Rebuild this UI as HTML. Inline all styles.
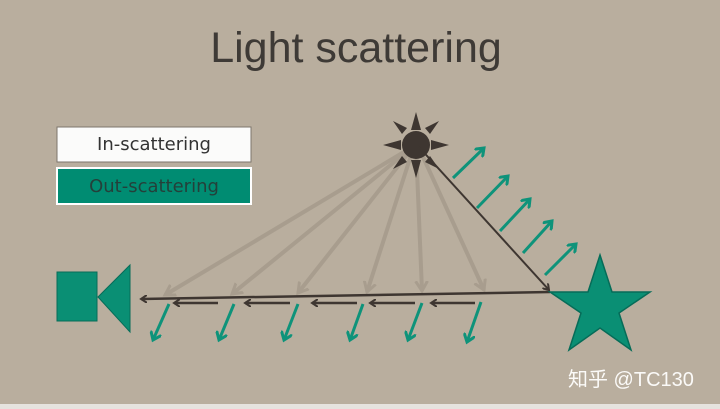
<!DOCTYPE html>
<html><head><meta charset="utf-8"><style>
body{margin:0;width:720px;height:409px;overflow:hidden;background:#b9ae9e;}
svg{display:block}
</style></head><body>
<svg width="720" height="409" xmlns="http://www.w3.org/2000/svg">
<defs>
<marker id="hd" markerWidth="8" markerHeight="8" refX="6" refY="4" orient="auto" markerUnits="userSpaceOnUse"><path d="M0,0 L6,4 L0,8" fill="none" stroke="#3e3631" stroke-width="2"/></marker>
<marker id="hg" markerWidth="14" markerHeight="14" refX="10" refY="7" orient="auto" markerUnits="userSpaceOnUse"><path d="M0,1 L10,7 L0,13" fill="none" stroke="#a89d8e" stroke-width="3"/></marker>
<marker id="ht" markerWidth="12" markerHeight="12" refX="8" refY="6" orient="auto" markerUnits="userSpaceOnUse"><path d="M0,0 L8,6 L0,12" fill="none" stroke="#0e937a" stroke-width="3"/></marker>
</defs>
<rect width="720" height="409" fill="#b9ae9e"/>
<rect y="404" width="720" height="5" fill="#e6e3de"/>
<text x="356" y="62" text-anchor="middle" font-family="Liberation Sans, sans-serif" font-size="43" fill="#3e3a36">Light scattering</text>
<g>
<rect x="57" y="127" width="194" height="35" fill="#fbfbfa" stroke="#7d766c" stroke-width="1"/>
<text x="154" y="150" text-anchor="middle" font-family="DejaVu Sans, sans-serif" font-size="18" fill="#333">In-scattering</text></g>
<g>
<rect x="57" y="168" width="194" height="36" fill="#008c72" stroke="#fff" stroke-width="2"/>
<text x="154" y="192" text-anchor="middle" font-family="DejaVu Sans, sans-serif" font-size="18" fill="#24403a">Out-scattering</text></g>
<g stroke="#a89d8e" stroke-width="4" fill="none">
<line x1="414" y1="146" x2="165" y2="295" marker-end="url(#hg)"/>
<line x1="414" y1="146" x2="232" y2="294" marker-end="url(#hg)"/>
<line x1="414" y1="146" x2="298" y2="293" marker-end="url(#hg)"/>
<line x1="414" y1="146" x2="367" y2="292" marker-end="url(#hg)"/>
<line x1="416" y1="146" x2="422" y2="291" marker-end="url(#hg)"/>
<line x1="418" y1="146" x2="484" y2="290" marker-end="url(#hg)"/>
</g>
<g fill="#3e3631">
<circle cx="416" cy="145" r="14"/>
<polygon points="411,130 416,112 421,130"/>
<polygon points="411,160 416,178 421,160"/>
<polygon points="401,140 383,145 401,150"/>
<polygon points="431,140 449,145 431,150"/>
<polygon points="402,134 393,121 407,128"/>
<polygon points="430,134 439,121 425,128"/>
<polygon points="402,156 393,169 407,162"/>
<polygon points="430,156 439,169 425,162"/>
</g>
<line x1="418" y1="146" x2="549" y2="290" stroke="#3e3631" stroke-width="2" marker-end="url(#hd)"/>
<line x1="550" y1="292" x2="141" y2="299" stroke="#3e3631" stroke-width="2.5" marker-end="url(#hd)"/>
<g stroke="#3e3631" stroke-width="2.5">
<line x1="218" y1="303" x2="174" y2="303" marker-end="url(#hd)"/>
<line x1="290" y1="303" x2="245" y2="303" marker-end="url(#hd)"/>
<line x1="357" y1="303" x2="312" y2="303" marker-end="url(#hd)"/>
<line x1="415" y1="303" x2="370" y2="303" marker-end="url(#hd)"/>
<line x1="475" y1="303" x2="431" y2="303" marker-end="url(#hd)"/>
</g>
<g stroke="#0e937a" stroke-width="3">
<line x1="169" y1="304" x2="153" y2="340" marker-end="url(#ht)"/>
<line x1="234" y1="304" x2="219" y2="340" marker-end="url(#ht)"/>
<line x1="298" y1="304" x2="284" y2="340" marker-end="url(#ht)"/>
<line x1="363" y1="304" x2="350" y2="340" marker-end="url(#ht)"/>
<line x1="422" y1="303" x2="408" y2="340" marker-end="url(#ht)"/>
<line x1="481" y1="302" x2="467" y2="342" marker-end="url(#ht)"/>
</g>
<g stroke="#0e937a" stroke-width="3">
<line x1="453" y1="178" x2="484" y2="148" marker-end="url(#ht)"/>
<line x1="477" y1="208" x2="508" y2="176" marker-end="url(#ht)"/>
<line x1="500" y1="231" x2="530" y2="199" marker-end="url(#ht)"/>
<line x1="523" y1="253" x2="552" y2="221" marker-end="url(#ht)"/>
<line x1="545" y1="275" x2="576" y2="244" marker-end="url(#ht)"/>
</g>
<g fill="#0a8f74" stroke="#066c58" stroke-width="1">
<rect x="57" y="272" width="40" height="49"/>
<polygon points="98,297 130,265 130,332"/>
</g>
<polygon fill="#0a8f74" stroke="#066c58" stroke-width="1.5" points="600,255 612,292 650,292 619,313 631,350 600,328 569,350 581,313 550,292 588,292"/>
<text x="568" y="386" font-family="Liberation Sans, 'Noto Sans CJK SC', sans-serif" font-size="20" fill="#fbfaf8">知乎 @TC130</text>
</svg>
</body></html>
